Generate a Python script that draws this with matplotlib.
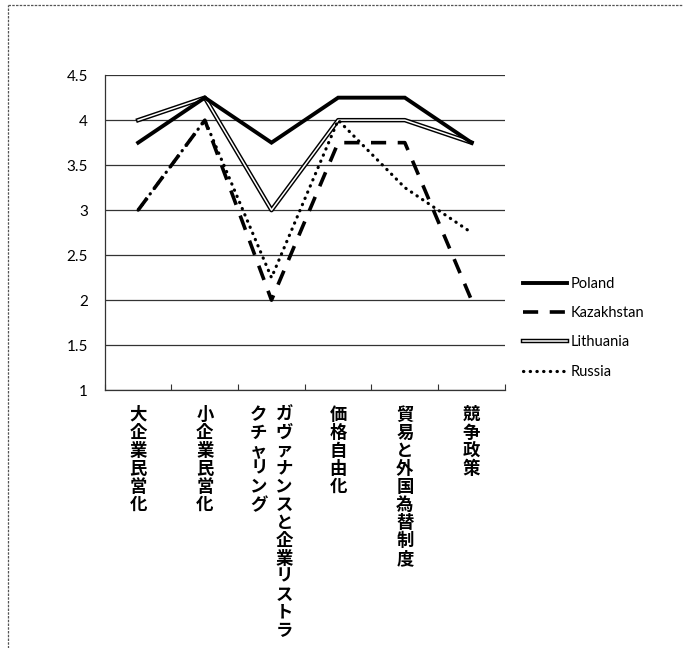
import matplotlib
matplotlib.use('Agg')
import matplotlib.pyplot as plt
import matplotlib.patheffects as pe
from matplotlib.lines import Line2D

## data
categories = [['大企業民営化'],
              ['小企業民営化'],
              ['ガヴァナンスと企業リストラ', 'クチャリング'],
              ['価格自由化'],
              ['貿易と外国為替制度'],
              ['競争政策']]
poland = [3.75, 4.25, 3.75, 4.25, 4.25, 3.75]
kazakhstan = [3, 4, 2, 3.75, 3.75, 2]
lithuania = [4, 4.25, 3, 4, 4, 3.75]
russia = [3, 4, 2.25, 4, 3.25, 2.75]
yticks = [1, 1.5, 2, 2.5, 3, 3.5, 4, 4.5]
ytick_labels = ['1', '1.5', '2', '2.5', '3', '3.5', '4', '4.5']

plt.rcParams['font.family'] = ['Lato', 'DejaVu Sans']
jp_font = ['Noto Sans CJK JP', 'DejaVu Sans']

fig = plt.figure(figsize=(6.85, 6.48), dpi=100)
ax = fig.add_axes([0.153, 0.398, 0.584, 0.486])

x = range(len(categories))

ax.plot(x, poland, color='black', lw=2.8, solid_joinstyle='miter', label='Poland', zorder=5)
ax.plot(x, kazakhstan, color='black', lw=2.6, dashes=(4.2, 3.2), label='Kazakhstan', zorder=4)
ax.plot(x, lithuania, color='white', lw=1.1, label='Lithuania', zorder=3,
        path_effects=[pe.Stroke(linewidth=3.2, foreground='black'), pe.Normal()])
ax.plot(x, russia, color='black', lw=2.3, dashes=(0.1, 2.0), dash_capstyle='round',
        label='Russia', zorder=4)

ax.set_xlim(-0.5, len(categories) - 0.5)
ax.set_ylim(1, 4.5)
ax.set_yticks(yticks)
ax.set_yticklabels(ytick_labels, fontsize=11)
ax.yaxis.grid(True, color='#333333', lw=0.9)
ax.set_axisbelow(True)

ax.set_xticks([i - 0.5 for i in range(len(categories) + 1)])
ax.set_xticklabels([])
ax.tick_params(axis='x', direction='in', length=4, color='#333333')
ax.tick_params(axis='y', length=0, pad=12)
for s in ['top', 'right']:
    ax.spines[s].set_visible(False)
for s in ['left', 'bottom']:
    ax.spines[s].set_color('#333333')
    ax.spines[s].set_linewidth(0.9)

## vertical japanese labels, columns go right to left
trans = ax.get_xaxis_transform()
col_gap = 0.38
for i, cols in enumerate(categories):
    n = len(cols)
    for j, col in enumerate(cols):
        xo = i + (n - 1) / 2 * col_gap - j * col_gap
        ax.text(xo, -0.05, '\n'.join(col), transform=trans, ha='center', va='top',
                fontsize=12.5, fontweight='bold', linespacing=1.0, family=jp_font)

handles, labels = ax.get_legend_handles_labels()
leg = fig.legend(handles, labels, loc='upper left', bbox_to_anchor=(0.745, 0.593),
                 frameon=False, fontsize=10.5, handlelength=3.0, handletextpad=0.25,
                 labelspacing=1.05)

## outer frame (left and top only)
fig.add_artist(Line2D([0.012, 0.012], [0.0, 0.992], transform=fig.transFigure,
                      color='#555555', lw=0.9, ls=(0, (2, 1))))
fig.add_artist(Line2D([0.012, 0.995], [0.992, 0.992], transform=fig.transFigure,
                      color='#555555', lw=0.9, ls=(0, (2, 1))))

fig.savefig('out.png', dpi=100)
